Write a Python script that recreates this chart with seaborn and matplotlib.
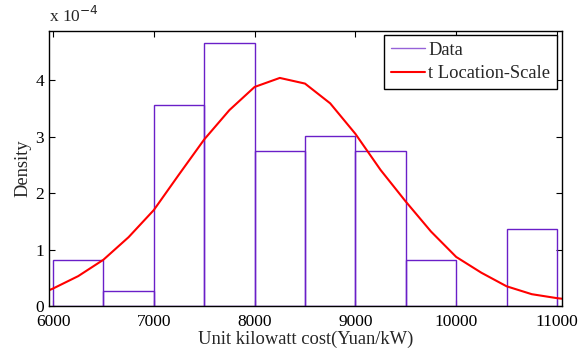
import numpy as np
import pandas as pd
import matplotlib
matplotlib.use("Agg")
import matplotlib.pyplot as plt
import seaborn as sns
from matplotlib.lines import Line2D
from matplotlib.ticker import FuncFormatter

# histogram bins (Yuan/kW) and densities
bin_edges = [6000, 6500, 7000, 7500, 8000, 8500, 9000, 9500, 10000, 10500, 11000]
bin_density = [0.822e-4, 0.274e-4, 3.56e-4, 4.66e-4, 2.74e-4, 3.01e-4, 2.74e-4, 0.822e-4, 0.0, 1.37e-4]

# fitted t location-scale curve
curve_x = [5960, 6000, 6250, 6500, 6750, 7000, 7250, 7500, 7750, 8000, 8250, 8500,
           8750, 9000, 9250, 9500, 9750, 10000, 10250, 10500, 10750, 11000, 11050]
curve_y = [0.28, 0.31, 0.53, 0.82, 1.22, 1.70, 2.33, 2.95, 3.47, 3.88, 4.04, 3.94,
           3.59, 3.05, 2.41, 1.85, 1.32, 0.87, 0.59, 0.35, 0.21, 0.14, 0.13]

hist_color = "#6a1fc8"

sns.set_style("ticks")
plt.rcParams["font.family"] = ["Liberation Serif", "DejaVu Serif"]
plt.rcParams["xtick.direction"] = "in"
plt.rcParams["ytick.direction"] = "in"

fig = plt.figure(figsize=(5.83, 3.53), dpi=100)
ax = fig.add_axes([0.084, 0.133, 0.88, 0.779])

centers = [(a + b) / 2 for a, b in zip(bin_edges[:-1], bin_edges[1:])]
hist_df = pd.DataFrame({"cost": centers, "density": bin_density})
sns.histplot(data=hist_df, x="cost", weights="density", bins=bin_edges,
             fill=False, element="bars", color=hist_color, linewidth=1.0, ax=ax)

curve_df = pd.DataFrame({"cost": curve_x, "density": [v * 1e-4 for v in curve_y]})
sns.lineplot(data=curve_df, x="cost", y="density", color="red", linewidth=1.5, ax=ax)

ax.set_xlim(5960, 11050)
ax.set_ylim(0, 4.87e-4)
ax.set_xticks([6000, 7000, 8000, 9000, 10000, 11000])
ax.set_yticks([0, 1e-4, 2e-4, 3e-4, 4e-4])
ax.yaxis.set_major_formatter(FuncFormatter(lambda v, p: f"{v * 1e4:g}"))
ax.tick_params(labelsize=12.5, length=4, width=0.8, top=True, right=True, colors="black")
ax.tick_params(axis="x", pad=6)
for s in ax.spines.values():
    s.set_visible(True)
    s.set_color("black")
    s.set_linewidth(1.0)

ax.set_xlabel("Unit kilowatt cost(Yuan/kW)", fontsize=13.3, labelpad=0)
ax.set_ylabel("Density", fontsize=13.3, labelpad=3)
ax.text(0.0, 1.02, r"x 10$^{-4}$", transform=ax.transAxes, fontsize=12.5,
        ha="left", va="bottom")

handles = [Line2D([], [], color=hist_color, lw=1.0, alpha=0.7),
           Line2D([], [], color="red", lw=1.5)]
leg = ax.legend(handles, ["Data", "t Location-Scale"], loc="upper right",
                bbox_to_anchor=(0.99, 0.985), fontsize=13.3, fancybox=False,
                edgecolor="black", framealpha=1, borderpad=0.35, handlelength=1.84,
                handletextpad=0.2, labelspacing=0.35, borderaxespad=0)
leg.get_frame().set_linewidth(1.0)

fig.savefig("out.png", dpi=100)
